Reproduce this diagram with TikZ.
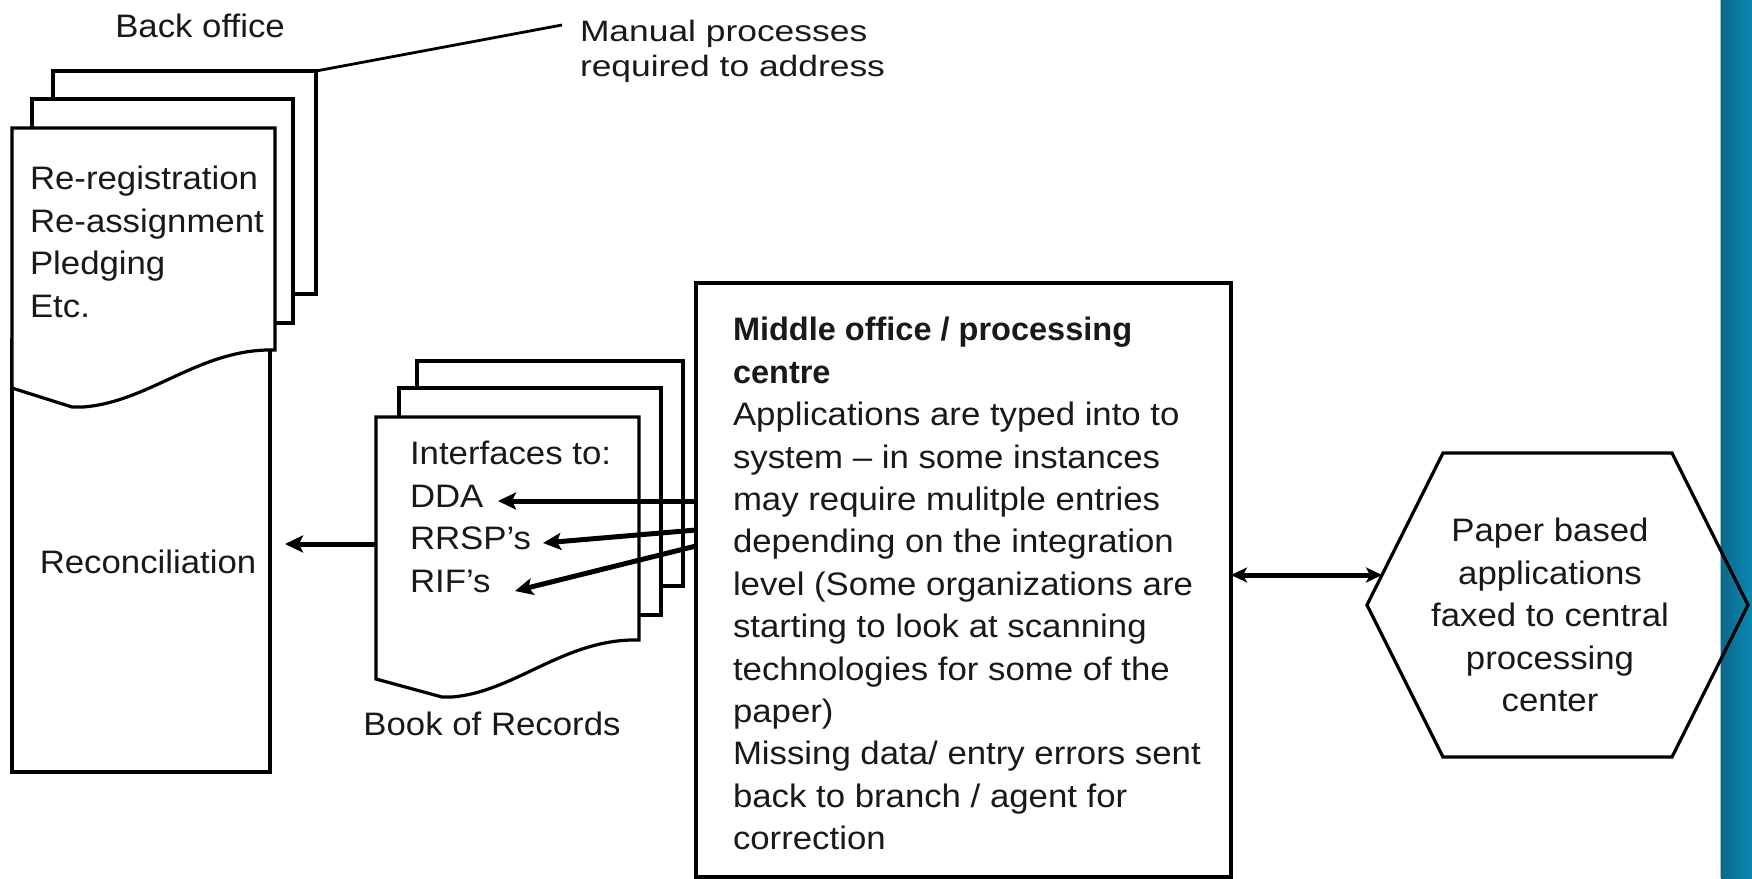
\documentclass[tikz,border=0pt]{standalone}
\usepackage{fontspec}
\setmainfont{Liberation Sans}[FakeStretch=1.07,BoldFeatures={FakeStretch=1.0}]
\newfontfamily\manualfont{Liberation Sans}[FakeStretch=1.2]
\usetikzlibrary{arrows.meta}
\definecolor{barL}{RGB}{14,104,138}
\definecolor{barR}{RGB}{8,136,178}
\definecolor{txtc}{RGB}{25,25,25}
\newcommand\dgfont{\fontsize{32.5}{42.4}\selectfont}
\newcommand\mnfont{\manualfont\fontsize{29.5}{35.5}\selectfont}
\begin{document}
\begin{tikzpicture}[x=1pt,y=-1pt,line width=3.2pt,line join=miter,
  sheet/.style={draw,fill=white,rectangle,inner sep=0pt,outer sep=0pt},
  txt/.style={inner sep=0pt,outer sep=0pt,font=\dgfont,text=txtc},
  arr/.style={line width=5pt,-{Stealth[length=18pt,width=17pt,inset=4pt]}},
  darr/.style={line width=5pt,{Stealth[length=16pt,width=15pt,inset=4pt]}-{Stealth[length=16pt,width=15pt,inset=4pt]}}]
\useasboundingbox (0,0) rectangle (1752,878);
\fill[white] (0,0) rectangle (1752,878);
% blue side bar
\fill[left color=barL,right color=barR] (1721,0) rectangle (1752,878);
\draw[line width=1pt,barL!40] (1720.5,0) -- (1720.5,878);

% ---------- Back office stack ----------
\node[sheet,minimum width=263pt,minimum height=223pt] (bo1) at (184.5,182.5) {};
\node[sheet,minimum width=261pt,minimum height=224pt] (bo2) at (162.5,211) {};
\node[sheet,minimum width=258pt,minimum height=432pt] (recon) at (141,556) {};
\draw[fill=white] (12,128) -- (275,128) -- (275,350)
  .. controls (200,348) and (150,402) .. (83,407) -- (72,407) -- (12,388) -- cycle;
\node[txt,anchor=north west,align=left] (botext) at (30,160.3)
  {\strut Re-registration\\Re-assignment\\Pledging\\Etc.};
\node[txt,anchor=base] (reclbl) at (148,573) {Reconciliation};
\node[txt,anchor=base] (bolbl) at (200,37) {Back office};
\coordinate (manEnd) at (562,25);
\draw[line width=2.8pt] (bo1.north east) -- (manEnd);
\node[inner sep=0pt,outer sep=0pt,font=\mnfont,text=txtc,anchor=north west,align=left] (manual)
  at (580,16.2) {\strut Manual processes\\required to address};

% ---------- Book of records stack ----------
\node[sheet,minimum width=266pt,minimum height=225pt] (bk1) at (550,473.5) {};
\node[sheet,minimum width=262pt,minimum height=227pt] (bk2) at (530,501.5) {};
\draw[fill=white] (376,417) -- (639,417) -- (639,640)
  .. controls (565,638) and (515,692) .. (452,697) -- (442,697) -- (376,679) -- cycle;
\node[txt,anchor=north west,align=left] (bktext) at (410,435.3)
  {\strut Interfaces to:\\DDA\\RRSP’s\\RIF’s};
\node[txt,anchor=base] (bklbl) at (492,735) {Book of Records};

% ---------- Middle office ----------
\node[sheet,minimum width=535pt,minimum height=594pt] (mid) at (963.5,580) {};
\node[txt,anchor=north west,align=left] (midtext) at (733,311.3)
  {\strut\textbf{Middle office / processing}\\\textbf{centre}\\
   Applications are typed into to\\system – in some instances\\
   may require mulitple entries\\depending on the integration\\
   level (Some organizations are\\starting to look at scanning\\
   technologies for some of the\\paper)\\
   Missing data/ entry errors sent\\back to branch / agent for\\correction};

% ---------- Hexagon ----------
\coordinate (h1) at (1443,453);
\coordinate (h2) at (1672,453);
\coordinate (h3) at (1748,605);
\coordinate (h4) at (1672,757);
\coordinate (h5) at (1443,757);
\coordinate (h6) at (1367,605);
\draw (h1) -- (h2) -- (h3) -- (h4) -- (h5) -- (h6) -- cycle;
\node[txt,anchor=north,align=center] (hex) at (1550,512.3)
  {\strut Paper based\\applications\\faxed to central\\processing\\center};

% ---------- Connectors ----------
\coordinate (bkW) at (376,544);
\coordinate (recTip) at (285,544);
\draw[arr] (bkW) -- (recTip);
\coordinate (mDDA) at (696,501);  \coordinate (tDDA) at (498,501);
\coordinate (mRRSP) at (696,530); \coordinate (tRRSP) at (543,543);
\coordinate (mRIF) at (696,546);  \coordinate (tRIF) at (515,591);
\draw[arr] (mDDA) -- (tDDA);
\draw[arr] (mRRSP) -- (tRRSP);
\draw[arr] (mRIF) -- (tRIF);
\coordinate (mE) at (1231,575);
\coordinate (hexW) at (1382,575);
\draw[darr] (mE) -- (hexW);
\end{tikzpicture}
\end{document}
